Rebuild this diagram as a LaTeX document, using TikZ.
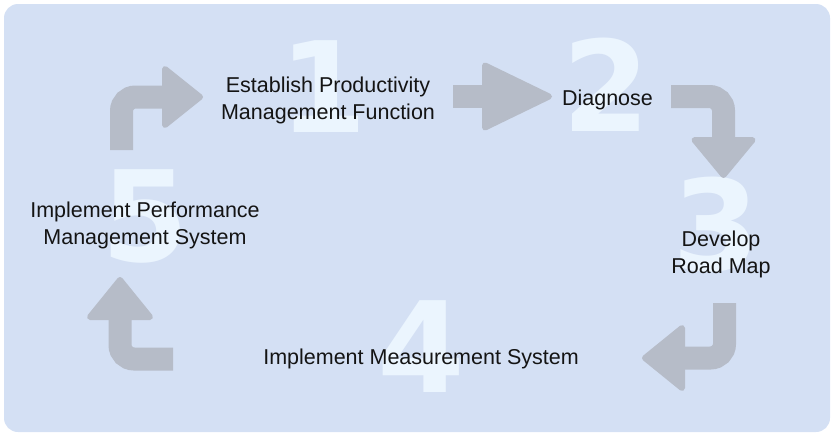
\documentclass[tikz,border=0pt]{standalone}
\usepackage{fontspec}
\setmainfont{Liberation Sans}
\newfontfamily\digitfont{DejaVu Sans}
\usetikzlibrary{positioning}
\definecolor{panelblue}{RGB}{212,224,244}
\definecolor{arrowgray}{RGB}{182,188,200}
\definecolor{digitwhite}{RGB}{235,245,254}
\definecolor{textblack}{RGB}{20,20,20}

\begin{document}
\begin{tikzpicture}[
    x=1pt, y=-1pt,
    stepnum/.style={inner sep=0pt,text=digitwhite,font=\digitfont\bfseries\fontsize{126}{126}\selectfont},
    steptext/.style={inner sep=0pt,text=textblack,align=center,font=\fontsize{21.5}{27}\selectfont},
    shaft/.style={draw=arrowgray,line width=23pt,rounded corners=14pt},
    head/.style={fill=arrowgray,draw=arrowgray,line width=6pt,line join=round}
  ]
    \useasboundingbox (0,0) rectangle (832,434);
    \fill[panelblue,rounded corners=14pt] (4,4) rectangle (830,432);

    % big step numbers
    \node[stepnum] (n1) at (323,87) {1};
    \node[stepnum] (n2) at (606,85) {2};
    \node[stepnum] (n3) at (716,225) {3};
    \node[stepnum] (n4) at (421,347) {4};
    \node[stepnum] (n5) at (145,216) {5};

    % arrow ends
    \coordinate (a1s) at (121.5,150);
    \coordinate (a1e) at (165,97);
    \coordinate (a2s) at (453,96.5);
    \coordinate (a2e) at (485,96.5);
    \coordinate (a3s) at (671,96.5);
    \coordinate (a3e) at (723.5,140);
    \coordinate (a4s) at (724.5,303);
    \coordinate (a4e) at (682,358);
    \coordinate (a5s) at (173,359);
    \coordinate (a5e) at (120,317);

    \draw[shaft] (a1s) |- (a1e);
    \filldraw[head] (a1e) ++(0,-28) -- ++(35,28) -- ++(-35,28) -- cycle;

    \draw[shaft] (a2s) -- (a2e);
    \filldraw[head] (a2e) ++(0,-31) -- ++(64,31) -- ++(-64,31) -- cycle;

    \draw[shaft] (a3s) -| (a3e);
    \filldraw[head] (a3e) ++(-29,0) -- ++(29,35) -- ++(29,-35) -- cycle;

    \draw[shaft] (a4s) |- (a4e);
    \filldraw[head] (a4e) ++(0,-30) -- ++(-37,30) -- ++(37,30) -- cycle;

    \draw[shaft] (a5s) -| (a5e);
    \filldraw[head] (a5e) ++(-30,0) -- ++(30,-37) -- ++(30,37) -- cycle;

    % step labels
    \node[steptext] (t1) at (328,100.4) {Establish Productivity\\Management Function};
    \node[steptext,anchor=base] (t2) at (607.5,105) {Diagnose};
    \node[steptext] (t3) at (721,254) {Develop\\Road Map};
    \node[steptext,anchor=base] (t4) at (421,364) {Implement Measurement System};
    \node[steptext] (t5) at (145,225.4) {Implement Performance\\Management System};
  \end{tikzpicture}
\end{document}
